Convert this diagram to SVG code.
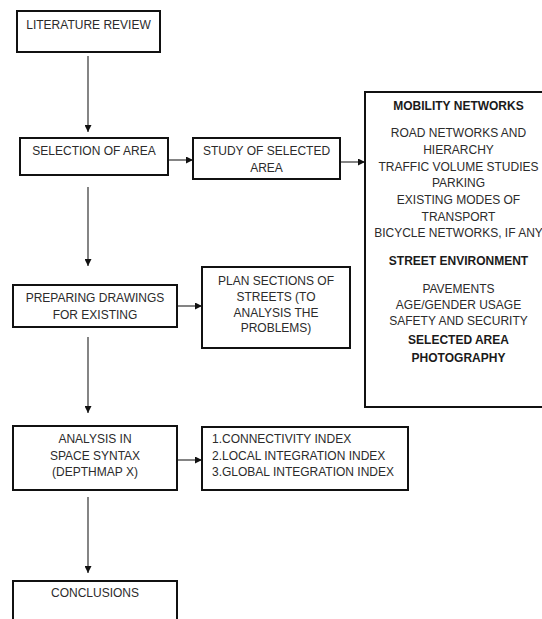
<svg xmlns="http://www.w3.org/2000/svg" width="542" height="619" viewBox="0 0 542 619">
<style>
.box{fill:#fff;stroke:#111;stroke-width:2}
.t{font-family:"Liberation Sans",Arial,sans-serif;font-size:12px;fill:#2b2b2b;text-anchor:middle}
.b{font-weight:bold;fill:#1a1a1a}
.l{text-anchor:start}
.c{stroke:#333;stroke-width:1.2;fill:none}
</style>
<defs>
<marker id="ah" viewBox="0 0 10 10" refX="10" refY="5" markerWidth="7" markerHeight="7" markerUnits="userSpaceOnUse" orient="auto">
<path d="M0,0 L10,5 L0,10 z" fill="#111"/>
</marker>
</defs>
<rect width="542" height="619" fill="#fff"/>
<g id="connectors">
<line class="c" x1="88" y1="56" x2="88" y2="132" marker-end="url(#ah)"/>
<line class="c" x1="168" y1="160" x2="193" y2="160" marker-end="url(#ah)"/>
<line class="c" x1="340" y1="162" x2="365" y2="162" marker-end="url(#ah)"/>
<line class="c" x1="88" y1="187" x2="88" y2="266" marker-end="url(#ah)"/>
<line class="c" x1="177" y1="306" x2="202" y2="306" marker-end="url(#ah)"/>
<line class="c" x1="88" y1="337" x2="88" y2="413" marker-end="url(#ah)"/>
<line class="c" x1="177" y1="460" x2="202" y2="460" marker-end="url(#ah)"/>
<line class="c" x1="88" y1="497" x2="88" y2="573" marker-end="url(#ah)"/>
</g>
<g id="literature-review">
<rect class="box" x="17" y="11" width="143" height="41"/>
<text class="t" x="88.5" y="29.3">LITERATURE REVIEW</text>
</g>
<g id="selection-of-area">
<rect class="box" x="20" y="138" width="148" height="37"/>
<text class="t" x="94" y="155.3">SELECTION OF AREA</text>
</g>
<g id="study-of-selected-area">
<rect class="box" x="193" y="138" width="147" height="41"/>
<text class="t" x="266.5" y="155.3">STUDY OF SELECTED</text>
<text class="t" x="266.5" y="172.3">AREA</text>
</g>
<g id="mobility-networks">
<rect class="box" x="365" y="92" width="188" height="315"/>
<text class="t b" x="458.5" y="110.3">MOBILITY NETWORKS</text>
<text class="t" x="458.5" y="137.3">ROAD NETWORKS AND</text>
<text class="t" x="458.5" y="154.3">HIERARCHY</text>
<text class="t" x="458.5" y="171.3">TRAFFIC VOLUME STUDIES</text>
<text class="t" x="458.5" y="187.3">PARKING</text>
<text class="t" x="458.5" y="204.3">EXISTING MODES OF</text>
<text class="t" x="458.5" y="221.3">TRANSPORT</text>
<text class="t" x="458.5" y="237.3">BICYCLE NETWORKS, IF ANY</text>
<text class="t b" x="458.5" y="265.3">STREET ENVIRONMENT</text>
<text class="t" x="458.5" y="292.8">PAVEMENTS</text>
<text class="t" x="458.5" y="308.8">AGE/GENDER USAGE</text>
<text class="t" x="458.5" y="324.8">SAFETY AND SECURITY</text>
<text class="t b" x="458.5" y="344.3">SELECTED AREA</text>
<text class="t b" x="458.5" y="362.3">PHOTOGRAPHY</text>
</g>
<g id="preparing-drawings">
<rect class="box" x="13" y="285" width="164" height="42"/>
<text class="t" x="95" y="302.3">PREPARING DRAWINGS</text>
<text class="t" x="95" y="319.3">FOR EXISTING</text>
</g>
<g id="plan-sections">
<rect class="box" x="202" y="267" width="148" height="81"/>
<text class="t" x="276" y="285.3">PLAN SECTIONS OF</text>
<text class="t" x="276" y="301.3">STREETS (TO</text>
<text class="t" x="276" y="316.8">ANALYSIS THE</text>
<text class="t" x="276" y="332.3">PROBLEMS)</text>
</g>
<g id="analysis-space-syntax">
<rect class="box" x="13" y="426" width="164" height="64"/>
<text class="t" x="95" y="443.3">ANALYSIS IN</text>
<text class="t" x="95" y="459.8">SPACE SYNTAX</text>
<text class="t" x="95" y="476.3">(DEPTHMAP X)</text>
</g>
<g id="indices">
<rect class="box" x="202" y="427" width="206" height="63"/>
<text class="t l" x="212" y="443.3">1.CONNECTIVITY INDEX</text>
<text class="t l" x="212" y="459.8">2.LOCAL INTEGRATION INDEX</text>
<text class="t l" x="212" y="476.3">3.GLOBAL INTEGRATION INDEX</text>
</g>
<g id="conclusions">
<rect class="box" x="13" y="581" width="164" height="50"/>
<text class="t" x="95" y="597.3">CONCLUSIONS</text>
</g>
</svg>
